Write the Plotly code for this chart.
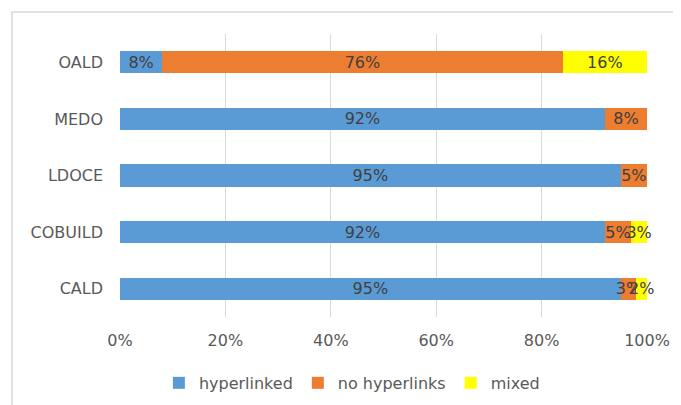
import plotly.graph_objects as go

categories = ["CALD", "COBUILD", "LDOCE", "MEDO", "OALD"]
hyperlinked = [95, 92, 95, 92, 8]
no_hyperlinks = [3, 5, 5, 8, 76]
mixed = [2, 3, 0, 0, 16]
tick_vals = [0, 20, 40, 60, 80, 100]
tick_text = ["0%", "20%", "40%", "60%", "80%", "100%"]

series = [
    ("hyperlinked", hyperlinked, "#5B9BD5"),
    ("no hyperlinks", no_hyperlinks, "#ED7D31"),
    ("mixed", mixed, "#FFFF00"),
]

FONT = "DejaVu Sans, sans-serif"
fig = go.Figure()
for name, vals, color in series:
    fig.add_trace(go.Bar(
        y=categories, x=vals, name=name, orientation="h",
        marker=dict(color=color, line=dict(width=0)),
        text=[f"{v}%" if v else "" for v in vals],
        textposition="inside", insidetextanchor="middle", textangle=0,
        textfont=dict(color="#404040", size=16, family=FONT),
        constraintext="none", cliponaxis=False,
    ))

fig.update_layout(
    barmode="stack", bargap=0.61,
    width=681, height=405, autosize=False,
    margin=dict(l=112, r=42, t=26, b=96, autoexpand=False),
    paper_bgcolor="white", plot_bgcolor="white",
    font=dict(family=FONT, color="#595959", size=16),
    uniformtext=dict(mode="show", minsize=16),
    legend=dict(orientation="h", x=0.44, xanchor="center",
                y=-0.233, yanchor="middle", traceorder="normal",
                font=dict(size=16, color="#595959")),
    xaxis=dict(range=[0, 100], tickvals=tick_vals, ticktext=tick_text,
               showgrid=True, gridcolor="#D9D9D9", gridwidth=1, automargin=False,
               zeroline=False, showline=False, ticks="", ticklabelstandoff=12,
               tickangle=0, tickfont=dict(size=16, color="#595959")),
    yaxis=dict(showgrid=False, showline=False, ticks="", ticklabelstandoff=16,
               automargin=False, tickfont=dict(size=16, color="#595959")),
    shapes=[dict(type="rect", xref="paper", yref="paper",
                 x0=-0.205, x1=1.2, y0=-0.5, y1=1.0775,
                 line=dict(color="#D9D9D9", width=1.5), fillcolor="rgba(0,0,0,0)",
                 layer="below")],
)
fig.write_html("out.html")
